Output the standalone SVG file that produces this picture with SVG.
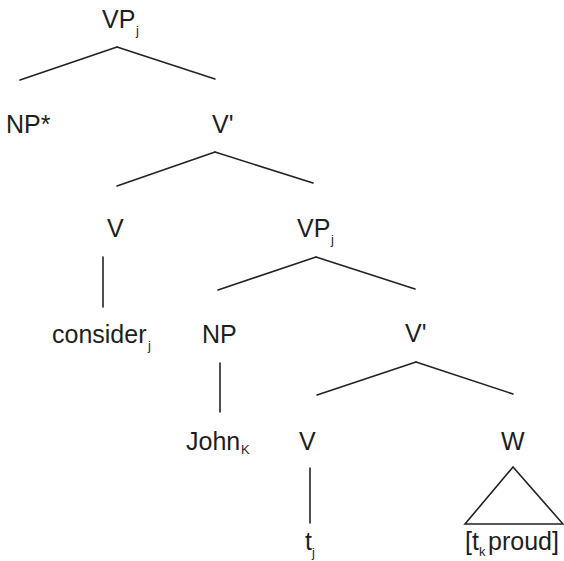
<svg xmlns="http://www.w3.org/2000/svg" width="564" height="561" viewBox="0 0 564 561">
<style>
text{font-family:"Liberation Sans",Arial,sans-serif;font-size:25px;fill:#1e1e1e}
.s{font-size:13px}
.e line,.e polygon{stroke:#222;stroke-width:1.6;fill:none;stroke-linecap:round}
</style>
<rect width="564" height="561" fill="#fff"/>
<g id="connectors" class="e">
<line x1="117" y1="47" x2="20" y2="80"/>
<line x1="117" y1="47" x2="215" y2="79"/>
<line x1="215" y1="152" x2="117" y2="186"/>
<line x1="215" y1="152" x2="313" y2="183"/>
<line x1="316" y1="257" x2="218" y2="290"/>
<line x1="316" y1="257" x2="415" y2="289"/>
<line x1="103" y1="257" x2="103" y2="307"/>
<line x1="220" y1="363" x2="220" y2="412"/>
<line x1="416" y1="362" x2="317" y2="395"/>
<line x1="416" y1="362" x2="513" y2="394"/>
<line x1="310" y1="468" x2="310" y2="523"/>
<polygon points="513,467 465,524 563,524"/>
</g>
<g id="n-vp1"><text x="102" y="28">VP<tspan class="s" x="136" y="35">j</tspan></text></g>
<g id="n-np-star"><text x="6" y="133">NP*</text></g>
<g id="n-vbar1"><text x="212" y="133">V'</text></g>
<g id="n-v1"><text x="107" y="237">V</text></g>
<g id="n-vp2"><text x="297" y="237">VP<tspan class="s" x="331" y="244">j</tspan></text></g>
<g id="n-consider"><text x="52" y="343">consider<tspan class="s" x="148" y="350">j</tspan></text></g>
<g id="n-np"><text x="202" y="343">NP</text></g>
<g id="n-vbar2"><text x="405" y="342">V'</text></g>
<g id="n-john"><text x="186" y="450">John<tspan class="s" x="241" y="454">K</tspan></text></g>
<g id="n-v2"><text x="299" y="450">V</text></g>
<g id="n-w"><text x="501" y="450">W</text></g>
<g id="n-t"><text x="305" y="550">t<tspan class="s" x="312" y="557">j</tspan></text></g>
<g id="n-tproud"><text x="465" y="550">[t<tspan class="s" x="479" y="556">k</tspan><tspan x="488" y="550">proud]</tspan></text></g>
</svg>
